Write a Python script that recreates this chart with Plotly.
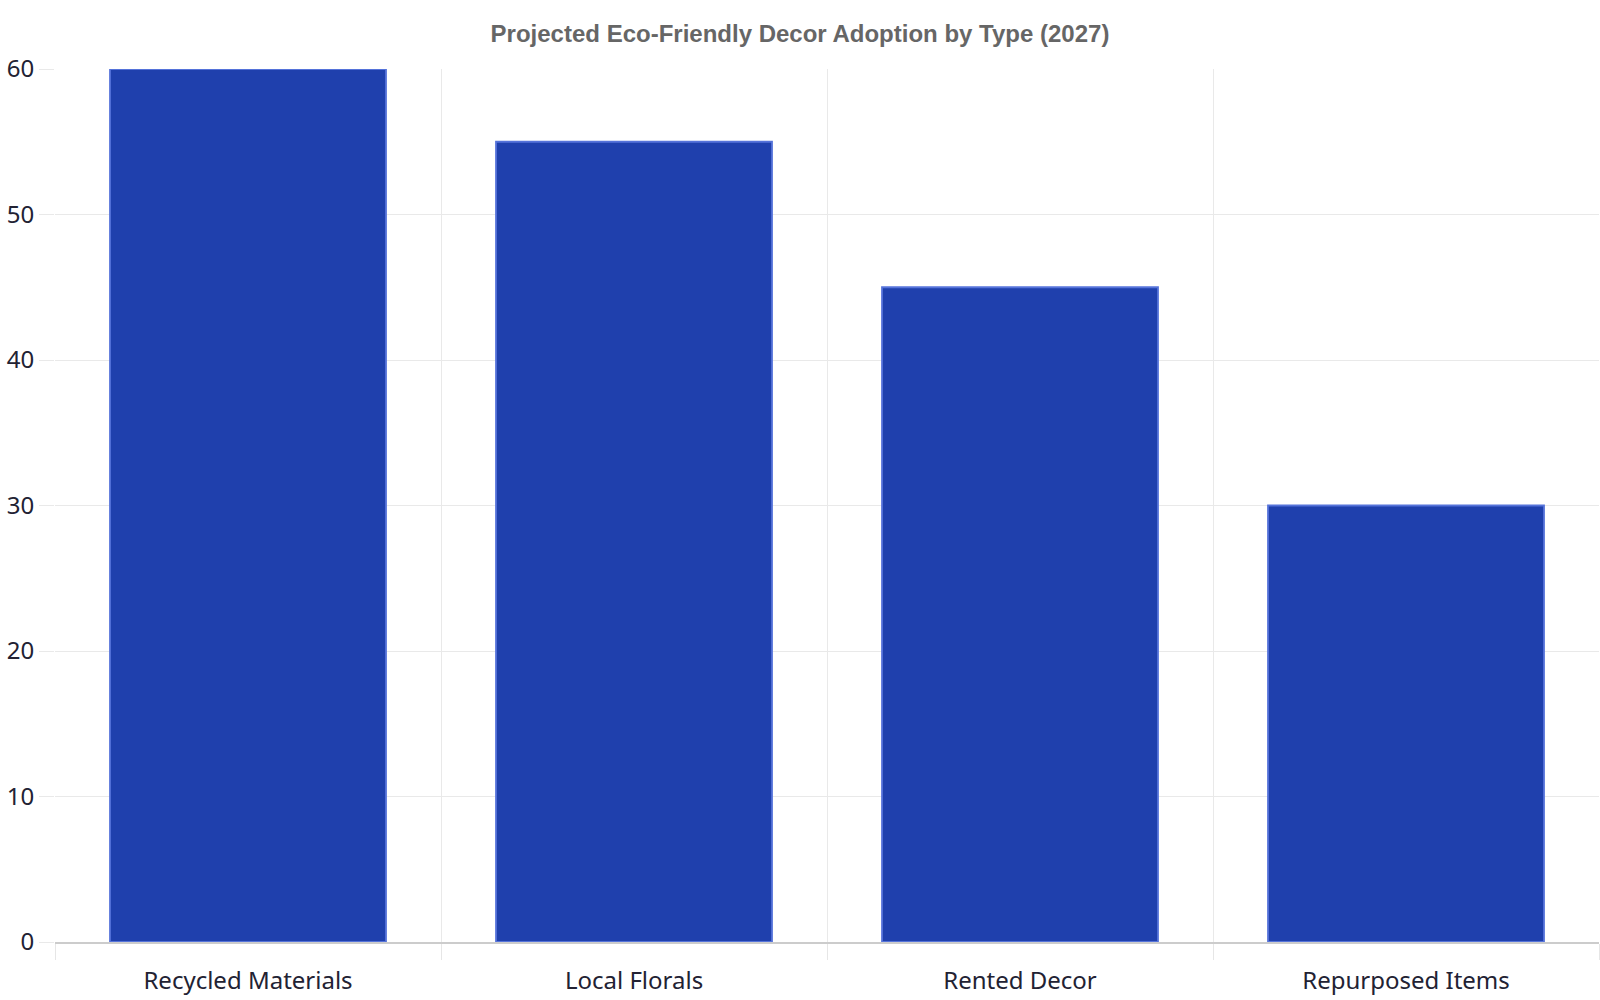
import plotly.graph_objects as go

categories = ["Recycled Materials", "Local Florals", "Rented Decor", "Repurposed Items"]
adoption = [60, 55, 45, 30]
y_ticks = [0, 10, 20, 30, 40, 50, 60]

fig = go.Figure()
fig.add_trace(go.Bar(
    x=categories,
    y=adoption,
    marker=dict(color="#1f40ad", line=dict(color="#5573da", width=1.8)),
    hoverinfo="x+y",
))

fig.update_layout(
    width=1600, height=1000,
    paper_bgcolor="white", plot_bgcolor="white",
    margin=dict(l=55, r=1, t=69, b=58),
    bargap=0.285,
    showlegend=False,
    title=dict(
        text="<b>Projected Eco-Friendly Decor Adoption by Type (2027)</b>",
        x=0.5, xanchor="center", y=1 - 34 / 1000, yanchor="middle",
        font=dict(family="Liberation Sans, Arial, sans-serif", size=24, color="#666666"),
    ),
    font=dict(family="Noto Sans, sans-serif", size=24, color="#222233"),
)

fig.update_xaxes(
    type="category",
    tickson="boundaries",
    ticks="outside", ticklen=16, tickcolor="#e6e6e6", tickwidth=1,
    showgrid=True, gridcolor="#e9e9e9", gridwidth=1,
    showline=True, linecolor="#cccccc", linewidth=2,
    tickfont=dict(family="Noto Sans, sans-serif", size=24, color="#222233"),
    ticklabelstandoff=16,
    zeroline=False,
)
fig.update_yaxes(
    range=[0, 60],
    tickvals=y_ticks,
    ticks="outside", ticklen=15, tickcolor="#e9e9e9", tickwidth=1,
    showgrid=True, gridcolor="#e9e9e9", gridwidth=1,
    showline=False, zeroline=False,
    tickfont=dict(family="Noto Sans, sans-serif", size=24, color="#222233"),
)

fig.write_html(
    "out.html",
    config={"displayModeBar": False},
    post_script="document.body.style.margin='0';document.body.style.overflow='hidden';",
)
